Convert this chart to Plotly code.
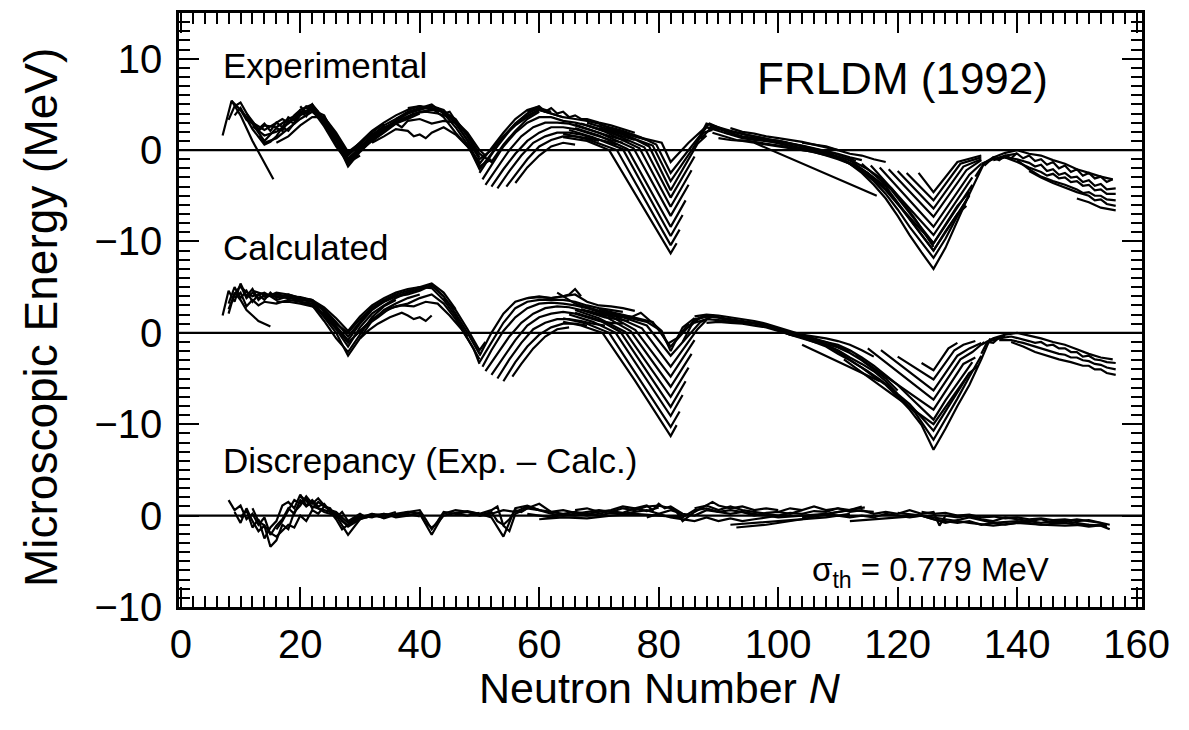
import plotly.graph_objects as go

# isotopic chains: (neutron numbers, microscopic energy in MeV)

EXP_LIGHT = [
    ([8.5, 10, 12, 14, 15.5], [5.4, 3.8, 1.0, -1.4, -3.2]),
    ([7, 8.5, 10, 11, 12, 13, 14, 16, 18, 20, 21, 22, 24, 26, 28, 30, 32],
     [1.6, 5.4, 4.4, 3.3, 2.9, 2.1, 2.7, 2.5, 3.4, 4.0, 4.8, 4.6, 2.9, 1.1, -1.1, 0.4, 1.5]),
    ([8, 9, 10, 11, 12, 13, 14, 15, 16, 17, 18, 19, 20, 22, 24, 26, 28, 30, 32, 34],
     [3.3, 4.8, 5.2, 4.0, 2.9, 1.9, 1.0, 1.7, 2.4, 2.1, 3.2, 2.9, 4.4, 5.0, 3.4, 1.5, -0.6, 0.6, 1.9, 2.9]),
    ([9, 10, 12, 14, 15, 16, 17, 18, 20, 22, 24, 26, 28, 30, 32, 34, 36],
     [3.8, 4.6, 2.3, 0.6, 0.9, 1.5, 2.5, 2.1, 3.8, 4.4, 3.8, 1.0, -1.8, -0.2, 1.1, 2.3, 3.2]),
    ([11, 12, 13, 14, 15, 16, 17, 18, 19, 20, 21, 22, 23],
     [4.0, 3.2, 2.3, 2.9, 2.1, 3.0, 2.5, 3.6, 3.2, 4.2, 3.7, 4.8, 4.2]),
    ([13, 14, 16, 18, 20, 22, 24, 26, 28, 30, 32, 34, 36, 38],
     [1.5, 0.8, 1.3, 2.3, 3.4, 4.2, 3.0, 0.6, -1.3, 0.0, 1.0, 2.1, 3.0, 3.6]),
    ([16, 18, 20, 22, 24, 26, 28, 30, 32, 34, 36, 38, 40],
     [0.8, 1.5, 2.7, 3.6, 3.6, 1.9, -0.2, 0.8, 1.7, 2.5, 2.9, 3.4, 4.0]),
    ([20, 21, 22, 23, 24, 25, 26, 27, 28, 29],
     [4.8, 4.0, 5.0, 3.8, 3.2, 2.1, 1.0, 0.0, -1.0, -0.4]),
    ([10, 11, 12, 13, 14, 15, 16, 17, 18, 19, 20, 21, 22, 24, 26, 28, 30],
     [4.4, 3.6, 3.0, 2.6, 2.2, 2.6, 3.0, 3.4, 3.0, 3.8, 4.4, 4.6, 4.4, 2.6, 0.4, -1.4, -0.6]),
    ([12, 14, 16, 18, 20, 22, 24, 26, 28, 30, 32, 34],
     [2.6, 1.6, 2.0, 2.9, 4.0, 4.6, 3.4, 1.3, -0.9, 0.2, 1.3, 2.6]),
]

EXP_MID = [
    ([24, 26, 28, 30, 32, 34, 36, 38, 40, 42, 44, 46, 48, 50, 52, 54, 56, 58, 60],
     [3.6, 1.7, -0.4, 0.8, 2.1, 3.0, 3.8, 4.4, 4.8, 4.6, 3.6, 1.9, 0.4, -1.5, 0.2, 1.9, 3.4, 4.4, 4.8]),
    ([26, 28, 30, 32, 34, 36, 38, 40, 42, 44, 46, 48, 50, 52, 54, 56, 58, 60, 62],
     [1.3, -1.5, 0.0, 1.5, 2.7, 3.4, 4.2, 4.6, 5.0, 4.0, 2.5, 0.6, -2.1, -0.4, 1.3, 2.9, 4.0, 4.6, 4.2]),
    ([30, 32, 34, 36, 38, 40, 42, 44, 46, 48, 50, 52, 54, 56, 58, 60, 62, 64],
     [0.4, 1.0, 1.9, 2.9, 3.6, 4.2, 4.4, 4.2, 2.9, 1.1, -1.0, 0.0, 1.5, 2.7, 3.6, 4.4, 4.0, 3.6]),
    ([32, 34, 36, 38, 39, 40, 41, 42, 44, 46, 48, 50],
     [0.8, 1.5, 2.3, 2.1, 1.5, 1.7, 1.3, 1.9, 2.5, 1.7, 0.4, -1.3]),
    ([34, 36, 37, 38, 40, 42, 44, 46, 48, 50, 52, 54, 56, 58, 60],
     [2.1, 2.9, 2.5, 3.2, 3.4, 2.9, 3.2, 3.0, 1.7, -0.4, -1.3, 0.6, 2.1, 3.4, 4.2]),
    ([36, 38, 40, 42, 44, 46, 48, 50], [3.4, 4.0, 4.6, 4.6, 4.2, 3.4, 1.5, -0.8]),
    ([38, 40, 42, 43, 44, 45, 46, 48, 50, 51], [4.6, 4.8, 4.4, 4.6, 4.0, 4.2, 3.2, 1.9, 0.0, -0.6]),
    ([28, 30, 32, 34, 36, 38, 40, 42, 44, 46, 48, 50, 52],
     [-1.0, 0.2, 1.3, 2.4, 3.2, 4.0, 4.4, 4.8, 4.4, 3.0, 1.0, -1.8, -1.0]),
    ([33, 35, 37, 39, 41, 43, 45, 47, 49], [1.6, 2.6, 3.4, 4.0, 4.2, 4.0, 3.6, 2.4, 0.6]),
]

EXP_V50 = [
    ([50, 51, 52, 54, 56, 58, 60, 62, 64, 66, 68, 70, 72, 74, 76, 78],
     [-2.5, -1.5, -0.4, 1.5, 2.9, 3.8, 4.4, 4.0, 3.6, 3.4, 3.2, 2.9, 2.3, 1.9, 1.5, 1.1]),
    ([50.5, 52, 54, 56, 58, 60, 62, 64, 66, 68, 70, 72, 74, 76],
     [-3.2, -1.7, 0.4, 1.9, 3.0, 3.6, 3.6, 3.2, 3.0, 2.7, 2.3, 1.9, 1.5, 1.1]),
    ([51, 53, 55, 57, 59, 61, 63, 65, 67, 69, 71, 73, 75],
     [-3.8, -1.9, 0.0, 1.5, 2.5, 3.0, 3.0, 2.9, 2.5, 2.1, 1.7, 1.3, 1.0]),
    ([52, 54, 56, 58, 60, 62, 64, 66, 68, 70, 72, 74],
     [-4.0, -2.1, -0.4, 1.0, 1.9, 2.5, 2.5, 2.3, 1.9, 1.5, 1.1, 0.8]),
    ([53, 55, 57, 59, 61, 63, 65, 67, 69, 71, 73],
     [-4.2, -2.3, -0.6, 0.8, 1.5, 1.9, 1.9, 1.7, 1.3, 1.0, 0.6]),
    ([54.5, 56, 58, 60, 62, 64, 66, 68, 70], [-4.0, -2.7, -1.0, 0.4, 1.1, 1.5, 1.5, 1.3, 1.0]),
    ([56, 58, 60, 62, 64, 66], [-3.6, -1.9, -0.6, 0.4, 0.8, 0.6]),
    ([58, 60, 61, 62, 63, 64, 65, 66, 67, 68, 70, 72, 74, 76],
     [4.2, 4.8, 4.2, 4.6, 4.0, 4.2, 3.6, 3.8, 3.4, 3.4, 3.0, 2.7, 2.3, 1.9]),
]

EXP_V82 = [
    ([64, 68, 71.7, 77, 82, 83], [1.4, 1.0, 0.0, -5.8, -11.3, -10.2]),
    ([64, 68, 73, 82, 83.5], [1.8, 1.2, 0.0, -10.4, -8.7]),
    ([65, 69, 74, 82, 84], [2.2, 1.4, 0.1, -9.4, -7.1]),
    ([66, 70, 74.8, 82, 84.5], [2.4, 1.6, 0.1, -8.4, -5.5]),
    ([66, 70, 75.8, 82, 85], [2.8, 1.9, 0.2, -7.2, -3.8]),
    ([67, 71, 76.8, 82, 85.5], [2.9, 2.0, 0.2, -6.2, -2.2]),
    ([68, 72, 77.6, 82, 86], [2.7, 1.9, 0.3, -5.2, -0.7]),
    ([68, 72, 75, 78.4, 82, 86.5, 88], [3.0, 2.2, 1.5, 0.4, -4.4, 0.7, 1.6]),
    ([70, 74, 79, 82, 87.5, 89], [2.4, 1.7, 0.5, -3.4, 1.9, 2.2]),
    ([70, 74, 77, 79.6, 82, 88, 90], [2.8, 2.1, 1.4, 0.6, -2.5, 2.5, 2.2]),
    ([72, 76, 80.5, 82, 85, 88.5, 91], [2.4, 1.5, 0.8, -1.3, 0.8, 2.9, 2.2]),
]

EXP_HEAVY = [
    ([86, 88, 90, 92, 94, 96, 98, 100, 102, 104, 106, 108, 110, 112, 114, 116, 118, 120, 122, 124, 126, 128, 130, 132, 134.5],
     [0.4, 2.9, 2.5, 2.1, 1.8, 1.5, 1.2, 1.0, 0.7, 0.4, 0.1, -0.3, -0.8, -1.5, -2.5, -3.8, -5.3, -7.2, -9.3, -11.2, -13.0, -10.7, -7.8, -4.8, -1.4]),
    ([88, 90, 92, 94, 96, 98, 100, 102, 104, 106, 108, 110, 112, 114, 116, 118, 120, 122, 124, 126, 128, 130, 132],
     [2.5, 2.1, 1.7, 1.3, 1.1, 1.0, 0.8, 0.5, 0.2, 0.0, -0.4, -0.9, -1.5, -2.3, -3.4, -4.8, -6.5, -8.4, -10.1, -11.8, -9.7, -7.2, -4.9]),
    ([89, 91, 93, 95, 97, 99, 101, 103, 105, 107, 109, 111, 113, 115, 117, 119, 121, 123, 126, 128, 130, 131.5],
     [1.9, 1.5, 1.1, 1.0, 0.8, 0.6, 0.4, 0.1, -0.1, -0.4, -0.7, -1.1, -1.7, -2.5, -3.6, -5.0, -6.7, -8.4, -11.0, -8.9, -7.0, -6.1]),
    ([90, 92, 94, 96, 98, 100, 102, 104, 106, 108, 110, 112, 114, 116, 118, 120, 122, 124, 126, 128, 130, 132],
     [1.3, 1.1, 1.0, 0.8, 0.6, 0.4, 0.2, 0.0, -0.2, -0.6, -1.0, -1.5, -2.3, -3.2, -4.4, -5.9, -7.4, -8.8, -10.2, -8.2, -6.1, -4.6]),
    ([96, 116.5], [0.8, -5.0]),
    ([88.5, 90, 92, 94, 96, 98, 100, 102, 104, 106, 108, 110, 112, 114],
     [2.7, 2.3, 1.9, 1.5, 1.3, 1.1, 1.0, 0.7, 0.5, 0.2, -0.1, -0.4, -0.8, -1.1]),
    ([104, 106, 108, 110, 112, 114, 116, 118], [0.8, 0.6, 0.4, 0.0, -0.4, -0.6, -1.0, -1.3]),
    ([92, 94, 96, 98, 100, 102, 104, 106, 108, 110], [2.4, 2.0, 1.8, 1.5, 1.3, 1.1, 0.9, 0.6, 0.3, 0.0]),
    ([87, 89, 91, 93, 95, 97, 99, 101, 103, 105, 107, 109, 111, 113],
     [1.2, 2.6, 2.2, 1.9, 1.6, 1.4, 1.1, 0.9, 0.6, 0.3, 0.0, -0.3, -0.7, -1.2]),
    ([91, 93, 95, 97, 99, 101, 103, 105, 107, 109, 111, 113, 115, 117, 119, 121, 123, 125, 126],
     [1.9, 1.6, 1.3, 1.1, 0.9, 0.6, 0.3, 0.1, -0.2, -0.5, -0.9, -1.4, -2.1, -3.0, -4.2, -5.8, -7.6, -9.6, -10.6]),
]

EXP_V126 = [
    ([123.5, 126, 130, 134], [-2.5, -4.6, -1.3, -0.6]),
    ([121.5, 126, 130.5, 134], [-2.5, -5.5, -1.5, -0.8]),
    ([120, 126, 131, 134], [-2.3, -6.4, -1.8, -1.0]),
    ([118.5, 126, 131.5, 134], [-2.1, -7.3, -2.2, -1.1]),
    ([117, 126, 132, 134], [-1.9, -8.4, -2.7, -1.5]),
    ([115.5, 126, 132.5], [-1.7, -9.3, -3.0]),
    ([114, 119, 126, 132.5], [-1.5, -4.4, -10.2, -3.8]),
    ([112, 118, 126, 132], [-1.1, -4.0, -11.0, -5.0]),
]

EXP_TAIL = [
    ([133, 134.5, 136, 138, 140, 142, 144, 146, 148, 150, 152, 154, 156],
     [-2.9, -1.4, -0.8, -0.3, 0.0, -0.4, -0.6, -1.1, -1.5, -2.1, -2.5, -2.9, -3.2]),
    ([134, 136, 138, 140, 141, 142, 143, 144, 145, 146, 147, 148, 149, 150, 151, 152, 153, 154, 155, 156],
     [-1.5, -1.0, -0.6, -0.4, -0.9, -0.6, -1.2, -1.0, -1.6, -1.3, -2.0, -1.7, -2.4, -2.1, -2.8, -2.5, -3.1, -2.9, -3.5, -3.2]),
    ([136, 138, 140, 142, 143, 144, 145, 146, 147, 148, 149, 150, 151, 152, 153, 154, 155, 156.5],
     [-1.1, -0.8, -1.0, -1.4, -1.8, -1.6, -2.3, -2.1, -2.7, -2.5, -3.0, -2.9, -3.5, -3.3, -3.9, -3.7, -4.3, -4.2]),
    ([138, 140, 142, 144, 145, 146, 147, 148, 149, 150, 151, 152, 153, 154, 155, 156.5],
     [-0.8, -1.3, -1.9, -2.4, -2.8, -2.6, -3.1, -3.0, -3.5, -3.4, -3.9, -3.8, -4.4, -4.3, -4.8, -4.8]),
    ([140, 142, 144, 146, 148, 150, 151, 152, 153, 154, 155, 156.5],
     [-1.1, -2.1, -2.9, -3.4, -3.8, -4.3, -4.7, -4.6, -5.0, -5.0, -5.4, -5.5]),
    ([142, 144, 146, 148, 150, 152, 153, 154, 155, 156.5],
     [-2.3, -3.0, -3.6, -4.1, -4.6, -5.0, -5.5, -5.4, -5.9, -6.1]),
    ([150, 152, 154, 156.5], [-5.3, -5.7, -6.3, -6.6]),
    ([134.5, 136, 137, 138, 139, 140], [-1.7, -0.8, -1.1, -0.6, -0.9, -0.3]),
]

CALC_LIGHT = [
    ([8, 9, 10, 11, 12, 13, 14, 15], [2.1, 4.4, 3.6, 2.5, 1.9, 1.3, 1.0, 0.7]),
    ([7, 8, 9, 10, 11, 12, 13, 14, 16, 18, 20, 22, 24, 26, 28, 30, 32, 34, 36, 38, 40, 42],
     [1.9, 4.6, 3.4, 5.4, 4.0, 4.8, 3.6, 4.2, 4.0, 3.8, 3.6, 3.4, 1.9, 0.4, -1.5, 0.6, 2.1, 3.0, 3.8, 4.4, 4.8, 5.2]),
    ([8, 9, 10, 11, 12, 13, 14, 15, 16, 18, 20, 22, 24, 26, 28, 30, 32, 34, 36, 38, 40, 42, 44],
     [3.2, 5.0, 3.8, 4.6, 3.4, 4.2, 3.6, 4.4, 3.8, 4.2, 3.8, 3.6, 2.3, 0.8, -0.8, 1.0, 2.5, 3.4, 4.0, 4.2, 4.6, 5.2, 4.0]),
    ([9, 10, 11, 12, 13, 14, 16, 18, 20, 22, 24, 26, 28, 30, 32, 34, 36, 38, 40],
     [3.8, 4.4, 2.9, 3.6, 3.0, 3.4, 3.2, 3.6, 3.4, 3.2, 1.7, 0.0, -2.5, -0.6, 1.3, 2.5, 3.2, 3.8, 4.2]),
    ([10, 12, 14, 16, 18, 20, 22, 24, 26, 28, 30, 32, 34, 36],
     [5.0, 4.0, 4.4, 3.6, 4.0, 3.4, 3.0, 1.3, -0.6, -2.1, -0.2, 1.7, 2.9, 3.6]),
    ([14, 16, 18, 20, 22, 23, 24, 26, 28, 30, 32, 34, 36, 38, 40, 42, 44, 46, 48, 50],
     [3.8, 4.4, 4.2, 3.8, 3.6, 2.9, 2.5, 1.0, 0.0, 1.5, 2.7, 3.4, 4.0, 4.4, 4.8, 5.2, 4.0, 2.1, 0.0, -2.3]),
    ([16, 18, 20, 22, 24, 26, 28, 30, 32, 34, 36, 38, 40, 42, 44, 46, 48, 50],
     [3.4, 3.4, 3.2, 2.9, 2.1, 0.6, -1.1, 0.2, 1.5, 2.3, 2.9, 3.2, 3.8, 4.2, 3.2, 1.5, -0.6, -2.9]),
    ([30, 31.5, 33, 35, 37, 38, 39, 40, 41, 42], [-0.6, 0.3, 1.0, 1.7, 2.2, 1.9, 1.5, 1.7, 1.3, 1.9]),
    ([29, 31, 33, 35, 37, 39, 41, 43, 45, 47, 49, 50],
     [-0.4, 0.8, 1.7, 2.7, 3.0, 2.9, 3.4, 3.2, 1.9, 0.4, -1.7, -3.4]),
    ([44, 46, 48, 50, 51], [3.8, 2.5, 0.4, -1.9, -1.0]),
    ([8, 9, 10, 11, 12, 13, 14, 16, 18, 20, 22, 24, 26, 28, 30, 32, 34, 36, 38, 40, 42, 44, 46],
     [2.6, 4.2, 5.2, 3.8, 4.4, 3.8, 4.0, 4.2, 4.0, 3.7, 3.4, 2.6, 1.2, -0.4, 1.2, 2.8, 3.6, 4.2, 4.6, 5.0, 5.4, 4.4, 2.6]),
    ([12, 14, 16, 18, 20, 22, 24, 26, 28, 30, 32, 34, 36, 38, 40, 42, 44, 46, 48],
     [4.6, 4.2, 4.0, 4.0, 3.9, 3.6, 2.8, 1.6, 0.2, 1.8, 3.0, 3.8, 4.4, 4.8, 5.0, 4.9, 3.6, 1.8, -0.4]),
]

CALC_V50 = [
    ([50, 52, 54, 56, 58, 60, 62, 64, 66, 68, 70, 72, 74, 76],
     [-2.5, 0.0, 2.1, 3.4, 3.8, 3.9, 3.8, 4.0, 4.2, 3.4, 3.0, 2.9, 2.7, 2.4]),
    ([50, 52, 54, 56, 58, 60, 62, 64, 66, 68, 70, 72, 74],
     [-3.2, -1.0, 1.1, 2.7, 3.4, 3.6, 3.6, 3.6, 3.4, 3.0, 2.7, 2.5, 2.3]),
    ([50.5, 52, 54, 56, 58, 60, 62, 64, 66, 68, 70, 72, 74, 76],
     [-3.7, -1.9, 0.2, 1.7, 2.7, 3.2, 3.3, 3.2, 3.0, 2.7, 2.3, 2.1, 1.9, 1.7]),
    ([51, 53, 55, 57, 59, 61, 63, 65, 67, 69, 71, 73, 75],
     [-4.2, -2.3, -0.4, 1.1, 2.1, 2.7, 2.9, 2.8, 2.5, 2.1, 1.7, 1.5, 1.3]),
    ([52, 54, 56, 58, 60, 62, 64, 66, 68, 70, 72, 74],
     [-4.6, -2.7, -0.8, 0.8, 1.7, 2.1, 2.3, 2.1, 1.7, 1.3, 1.1, 1.0]),
    ([53, 55, 57, 59, 61, 63, 65, 67, 69, 71], [-5.0, -2.9, -1.1, 0.4, 1.1, 1.5, 1.5, 1.3, 1.0, 0.8]),
    ([54, 56, 58, 60, 62, 64, 66, 68], [-5.3, -3.2, -1.5, -0.2, 0.6, 1.0, 1.0, 0.8]),
    ([55.5, 57, 59, 61, 63, 65], [-4.8, -3.4, -1.7, -0.4, 0.4, 0.6]),
    ([58, 60, 62, 64, 65, 66, 67], [3.8, 4.0, 3.8, 4.0, 4.2, 4.8, 4.0]),
]

CALC_V82 = [
    ([64, 67, 70.6, 76, 82, 83], [1.2, 0.8, 0.0, -5.2, -11.3, -10.1]),
    ([64, 68, 71.7, 82, 83.5], [1.6, 1.0, 0.0, -10.3, -8.6]),
    ([65, 69, 72.8, 82, 84], [2.0, 1.2, 0.0, -9.1, -6.8]),
    ([66, 70, 73.6, 82, 84.5], [2.2, 1.4, 0.1, -8.1, -5.3]),
    ([66, 70, 74.4, 82, 85], [2.5, 1.6, 0.1, -7.0, -3.8]),
    ([67, 71, 75.3, 82, 85.5], [2.6, 1.8, 0.2, -5.9, -2.3]),
    ([68, 72, 76.1, 82, 86], [2.4, 1.8, 0.3, -4.8, -0.8]),
    ([68, 72, 77.2, 82, 86.5, 88], [2.8, 2.0, 0.5, -3.7, 0.4, 1.4]),
    ([70, 74, 78, 82, 87, 89], [2.2, 1.7, 0.8, -2.5, 1.2, 1.8]),
    ([70, 74, 79, 82, 86, 88, 90], [2.6, 2.0, 1.2, -1.5, 1.4, 1.8, 1.7]),
    ([72, 75, 77, 79, 80.5, 82, 84, 86], [2.0, 1.6, 2.2, 1.0, 0.2, -2.0, 0.6, 1.6]),
    ([63, 66, 70, 74, 78, 80, 81.5, 83, 85], [4.4, 3.2, 2.4, 1.8, 1.2, 0.4, -1.2, -0.6, 1.0]),
]

CALC_HEAVY = [
    ([84, 86, 88, 90, 92, 94, 96, 98, 100, 102, 104, 106, 108, 110, 112, 114, 116, 118, 120, 122, 124, 126, 128, 130, 132, 134, 135.5],
     [-1.0, 1.5, 1.8, 1.7, 1.5, 1.3, 1.1, 0.8, 0.4, -0.2, -0.6, -1.0, -1.5, -2.3, -3.0, -3.8, -4.8, -5.7, -7.0, -8.4, -10.1, -12.8, -10.5, -8.0, -5.7, -2.9, -0.6]),
    ([85, 87, 89, 91, 93, 95, 97, 99, 101, 103, 105, 107, 109, 111, 113, 115, 117, 119, 121, 123, 126, 128, 130, 132, 134],
     [0.6, 1.7, 1.9, 1.5, 1.3, 1.1, 1.0, 0.6, 0.2, -0.2, -0.6, -1.1, -1.7, -2.5, -3.4, -4.2, -5.1, -6.1, -7.4, -8.8, -11.7, -9.5, -7.2, -4.8, -2.5]),
    ([86, 88, 90, 92, 94, 96, 98, 100, 102, 104, 106, 108, 110, 112, 114, 116, 118, 120, 122, 126, 128, 130, 132],
     [1.1, 1.5, 1.4, 1.2, 1.1, 1.0, 0.7, 0.3, -0.2, -0.5, -1.0, -1.3, -1.9, -2.7, -3.4, -4.2, -5.3, -6.7, -7.8, -10.7, -8.6, -6.5, -4.4]),
    ([88, 90, 92, 94, 96, 98, 100, 102, 104, 106, 108, 110, 112, 114, 116, 118, 120, 122, 124, 126, 128, 130, 132.5],
     [1.1, 1.2, 1.1, 1.0, 0.8, 0.6, 0.2, -0.2, -0.4, -0.8, -1.0, -1.3, -1.9, -2.7, -3.6, -4.6, -5.7, -7.0, -8.2, -9.5, -7.4, -5.5, -3.2]),
    ([104, 117], [-1.3, -5.3]),
    ([102, 104, 106, 108, 110, 112, 114, 116], [0.0, -0.2, -0.4, -0.6, -0.9, -1.3, -1.9, -2.6]),
    ([86, 88, 90, 92, 94, 96, 98, 100, 102, 104, 106, 108, 110, 112],
     [1.8, 2.0, 1.9, 1.7, 1.5, 1.3, 1.0, 0.6, 0.2, -0.2, -0.6, -1.0, -1.5, -2.0]),
    ([90, 92, 94, 96, 98, 100, 102, 104, 106, 108, 110, 112, 114, 116, 118, 120],
     [1.6, 1.4, 1.2, 1.1, 0.9, 0.5, 0.0, -0.4, -0.8, -1.2, -1.6, -2.2, -3.0, -4.0, -5.0, -6.3]),
]

CALC_V126 = [
    ([124, 126, 128.5, 130], [-3.3, -4.1, -1.7, -1.1]),
    ([120, 126, 129.5, 131, 133], [-2.6, -5.1, -1.9, -1.3, -0.9]),
    ([117.2, 126, 130, 132, 134], [-1.9, -6.3, -2.5, -1.7, -1.1]),
    ([115, 126, 130.5, 132.5, 134.5], [-1.7, -7.3, -2.9, -2.1, -1.0]),
    ([113, 126, 131, 133], [-2.5, -8.4, -3.4, -2.7]),
    ([111, 126, 132, 133.5], [-2.9, -10.0, -4.4, -3.6]),
]

CALC_TAIL = [
    ([134, 136, 138, 140, 142, 144, 146, 148, 150, 152, 154, 156],
     [-1.3, -0.6, -0.2, 0.0, -0.3, -0.6, -1.0, -1.3, -1.8, -2.3, -2.7, -2.9]),
    ([135, 137, 139, 141, 142, 143, 144, 145, 146, 147, 148, 149, 150, 151, 152, 153, 154, 155, 156.5],
     [-1.0, -0.6, -0.4, -0.7, -0.9, -1.1, -1.0, -1.4, -1.3, -1.7, -1.7, -2.1, -2.1, -2.6, -2.5, -2.9, -3.0, -3.2, -3.3]),
    ([137, 139, 141, 143, 145, 147, 148, 149, 150, 151, 152, 153, 154, 155, 156.5],
     [-0.8, -0.8, -1.1, -1.5, -1.9, -2.3, -2.4, -2.7, -2.7, -3.0, -3.1, -3.4, -3.5, -3.8, -4.0]),
    ([139, 141, 143, 145, 147, 149, 151, 152, 153, 154, 155, 156.5],
     [-1.0, -1.5, -2.1, -2.5, -2.9, -3.2, -3.6, -3.6, -4.0, -4.0, -4.4, -4.6]),
    ([134, 135, 136, 137, 138], [-2.3, -1.0, -1.1, -0.5, -0.3]),
]

DISC = [
    ([8, 9, 10, 11, 12, 13, 14, 15, 16, 17, 18, 19, 20, 21, 22, 23, 24, 26, 28, 30, 32, 34, 36, 38, 40, 42, 44, 46, 48, 50, 52, 54, 56, 58, 60],
     [1.7, 0.6, 1.1, -0.4, 0.2, -1.0, -0.2, -2.1, -1.1, -0.4, 0.8, 0.2, 1.7, 1.0, 1.5, 0.8, 0.4, 0.0, -2.1, -0.4, 0.0, -0.2, 0.2, 0.4, 0.2, -2.1, 0.2, 0.6, 0.4, 0.2, -0.2, -2.3, 0.8, 1.1, 0.6]),
    ([9, 10, 11, 12, 13, 14, 15, 16, 17, 18, 19, 20, 21, 22, 23, 24, 25, 26, 27, 28, 29, 30],
     [0.4, -0.8, 0.8, -0.6, -1.7, -1.1, -3.4, -2.7, -1.0, -1.5, 0.4, 1.1, 2.1, 1.3, 1.9, 1.1, 0.6, 0.2, -0.6, -1.1, -0.4, 0.0]),
    ([10, 11, 12, 13, 14, 15, 16, 17, 18, 19, 20, 21, 22, 23, 24, 25, 26, 27, 28, 30, 32, 34, 36, 38, 40],
     [-0.2, 0.6, -1.3, -0.4, -2.5, -1.3, -0.6, 1.1, 1.5, 0.8, 2.3, 1.1, 1.7, 1.0, 1.3, 0.4, -0.4, -1.5, -1.0, -0.2, 0.2, -0.3, 0.1, 0.2, -0.1]),
    ([12, 13, 14, 15, 16, 17, 18, 19, 20, 21, 22, 23, 24, 25, 26, 27, 28, 29, 30, 31, 32],
     [0.8, -0.6, -1.1, -1.9, -2.3, -1.7, -1.0, -1.3, 0.0, -0.6, 0.6, 0.2, 1.0, 0.8, -0.2, 0.4, -0.6, -0.2, 0.2, -0.2, 0.0]),
    ([16, 17, 18, 19, 20, 21, 22, 23, 24, 25, 26, 28, 30, 32, 34, 36, 38, 40, 41, 42, 43, 44, 46, 48, 50],
     [-1.5, -0.6, 0.6, 1.7, 1.3, 1.9, 0.8, 1.5, 1.0, 0.6, 0.4, -0.8, 0.0, -0.2, 0.2, 0.0, 0.4, 0.6, -0.4, -1.5, -0.6, 0.4, 0.2, 0.0, 0.3]),
    ([30, 32, 34, 36, 38, 40, 41, 42, 43, 44, 46, 48, 50, 52, 53, 54, 55, 56, 58, 60, 62, 64, 66, 68, 70],
     [-0.2, 0.0, 0.2, -0.2, 0.0, 0.3, -0.8, -1.3, -0.8, 0.0, 0.3, 0.5, 0.2, 0.6, 1.0, -1.1, -1.7, 0.2, 0.8, 1.3, 0.4, 0.2, 0.4, 0.2, 0.4]),
    ([46, 48, 50, 52, 53, 54, 55, 56, 57, 58, 60, 62, 64, 66, 68, 70, 72, 74, 76, 78, 80, 82, 84],
     [0.2, 0.4, 0.0, 0.4, -0.6, -1.0, -0.4, 0.6, 0.4, 0.8, 0.6, 0.2, 0.0, 0.2, 0.4, 0.6, 0.4, 0.8, 0.6, 1.0, 1.1, 0.8, 0.0]),
    ([58, 60, 62, 64, 66, 68, 70, 72, 74, 76, 78, 80, 82, 83, 84, 86, 88, 89, 90, 92, 94, 96, 98, 100],
     [0.2, 0.0, -0.2, 0.1, 0.0, 0.2, 0.0, 0.3, 0.2, 0.4, 0.6, 0.2, 0.6, 0.4, -0.6, 0.4, 1.1, 1.5, 1.1, 0.8, 1.0, 0.6, 0.8, 0.6]),
    ([66, 68, 70, 72, 74, 76, 78, 79, 80, 81, 82, 84, 86, 88, 90, 92, 94, 96, 98, 100, 102, 104],
     [0.6, 0.8, 0.4, 0.6, 1.0, 0.8, 1.1, 0.6, 1.3, 0.8, 1.0, 0.2, 0.0, 0.6, 0.4, 0.2, 0.4, 0.0, 0.3, 0.4, 0.2, 0.6]),
    ([78, 80, 82, 84, 86, 88, 90, 92, 94, 96, 98, 100, 102, 104, 106, 108, 110, 112, 114],
     [-0.2, 0.2, -0.2, -0.4, -0.6, -0.2, -0.6, -0.3, -0.6, -0.4, -0.2, 0.0, 0.3, 0.2, 0.5, 0.4, 0.8, 0.6, 1.0]),
    ([93, 98, 104, 110, 114.5], [-1.3, -1.0, -0.4, 0.4, 0.9]),
    ([92, 96, 100, 104, 108, 112], [-1.0, -0.8, -0.6, -0.4, -0.2, 0.2]),
    ([100, 102, 104, 106, 108, 110, 112, 114, 116, 118, 120, 122, 124, 126, 127, 128, 130, 132, 134, 136, 138, 140, 142, 144, 146, 148, 150, 152, 154, 155],
     [0.4, 0.8, 0.6, 1.0, 0.6, 0.8, 0.4, 0.6, 0.2, 0.4, 0.2, 0.6, 0.2, 0.4, -1.1, 0.0, -0.2, 0.0, -0.4, -0.6, -0.2, -0.4, -0.6, -0.4, -0.8, -0.6, -0.4, -0.6, -0.8, -1.3]),
    ([104, 106, 108, 110, 112, 114, 116, 118, 120, 122, 124, 126, 128, 130, 132, 134, 136, 138, 140, 142, 144, 146, 148, 150, 152, 154, 155.5],
     [-0.2, 0.0, 0.2, 0.0, -0.2, 0.0, -0.2, 0.2, 0.0, -0.2, 0.0, -0.4, -0.6, -0.8, -0.6, -1.0, -0.8, -1.0, -0.8, -0.6, -0.8, -0.6, -0.6, -0.8, -1.0, -1.1, -1.5]),
    ([112, 116, 120, 124, 128, 132, 136, 140, 144, 148, 152, 155],
     [-0.6, -0.4, -0.2, 0.0, -0.4, -0.8, -1.1, -0.8, -1.0, -1.1, -1.0, -1.1]),
    ([124, 126, 128, 130, 132, 134, 136, 138, 140, 142, 144, 146, 148, 150, 152, 154, 155.5],
     [0.4, 0.2, 0.3, 0.0, 0.1, -0.2, -0.1, -0.3, -0.2, -0.4, -0.3, -0.5, -0.4, -0.6, -0.5, -0.8, -1.0]),
    ([86, 88, 90, 92, 94, 96, 98, 100], [0.8, 1.1, 0.6, 1.0, 0.6, 0.4, 0.2, 0.0]),
    ([50, 52, 54, 56, 58, 60, 62, 64, 66, 68, 70, 72, 74, 76, 78, 80],
     [0.0, 0.2, 0.6, 0.4, 1.0, 0.6, 0.4, 0.6, 0.3, 0.0, 0.2, 0.5, 0.3, 0.8, 0.5, 0.9]),
    ([60, 64, 68, 72, 76, 80, 84, 86, 88, 90, 92, 96, 100, 104, 108, 112, 116],
     [-0.4, -0.2, -0.3, 0.0, 0.2, 0.0, -0.2, 0.6, 0.8, 0.4, 0.6, 0.2, -0.2, 0.0, 0.2, 0.6, 0.4]),
    ([120, 124, 128, 132, 136, 140, 144, 148, 152, 155],
     [0.3, 0.0, -0.8, -0.2, -0.8, -0.6, -1.0, -0.8, -1.2, -1.0]),
    ([20, 22, 24, 26, 28, 30, 32, 34, 36], [2.2, 1.0, 0.6, 0.2, -1.2, -0.4, 0.2, 0.0, 0.4]),
]

X_TICKS = [0, 20, 40, 60, 80, 100, 120, 140, 160]
Y_TICKS = [-10, 0, 10, 20, 30, 40, 50]
Y_TICK_TEXT = ["\u221210", "0", "\u221210", "0", "\u221210", "0", "10"]

FONT = "Liberation Sans, Arial, Helvetica, sans-serif"

# each panel is shifted up by 20 MeV relative to the one below
panels = [
    (40, [EXP_LIGHT, EXP_MID, EXP_V50, EXP_V82, EXP_HEAVY, EXP_V126, EXP_TAIL]),
    (20, [CALC_LIGHT, CALC_V50, CALC_V82, CALC_HEAVY, CALC_V126, CALC_TAIL]),
    (0, [DISC]),
]

fig = go.Figure()
for shift, groups in panels:
    xs, ys = [], []
    for group in groups:
        for n, e in group:
            xs += list(n) + [None]
            ys += [v + shift for v in e] + [None]
    fig.add_trace(go.Scatter(x=xs, y=ys, mode="lines",
                             line=dict(color="black", width=2.2),
                             hoverinfo="skip", showlegend=False))

for shift in (0, 20, 40):
    fig.add_shape(type="line", xref="paper", x0=0, x1=1, y0=shift, y1=shift,
                  line=dict(color="black", width=2.2))

axis_common = dict(
    ticks="inside", ticklen=20, tickwidth=2, tickcolor="black",
    showline=True, linewidth=2.5, linecolor="black", mirror="allticks",
    showgrid=False, zeroline=False, automargin=False,
    tickfont=dict(family=FONT, size=40, color="black"),
)

fig.update_xaxes(range=[-0.3, 160.9], tickvals=X_TICKS, ticklabelstandoff=0,
                 minor=dict(ticks="inside", dtick=2, ticklen=11, tickwidth=1.6, tickcolor="black"),
                 **axis_common)
fig.update_yaxes(range=[-10, 55], tickvals=Y_TICKS, ticktext=Y_TICK_TEXT, ticklabelstandoff=6,
                 minor=dict(ticks="inside", dtick=1, ticklen=11, tickwidth=1.6, tickcolor="black"),
                 **axis_common)

def label(text, x, y, size, xanchor="left", angle=0):
    fig.add_annotation(text=text, x=x, y=y, xref="paper", yref="paper",
                       xanchor=xanchor, yanchor="middle", textangle=angle, showarrow=False,
                       font=dict(family=FONT, size=size, color="black"))

label("Experimental", 0.0436, 0.9108, 35)
label("FRLDM (1992)", 0.598, 0.8889, 44)
label("Calculated", 0.0436, 0.6044, 35)
label("Discrepancy (Exp. \u2013 Calc.)", 0.0436, 0.2458, 35)
label("\u03c3<sub>th</sub> = 0.779 MeV", 0.655, 0.059, 33)
label("Microscopic Energy (MeV)", -0.1433, 0.4865, 46, xanchor="center", angle=-90)
label("Neutron Number <i>N</i>", 0.4995, -0.1364, 43, xanchor="center")

fig.update_layout(
    width=1189, height=730,
    margin=dict(l=179, r=47, t=13, b=123),
    paper_bgcolor="white", plot_bgcolor="white",
)

# page body margin would push the figure 8px right and down
fig.write_html("out.html", config={"displayModeBar": False},
               post_script="document.body.style.margin='0';")
